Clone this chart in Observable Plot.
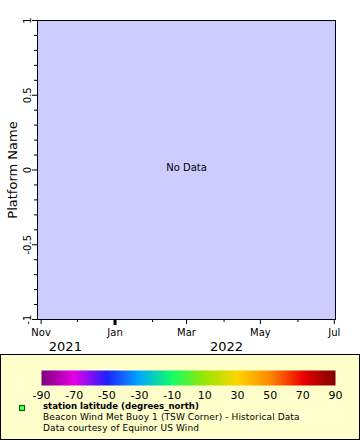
<!DOCTYPE html>
<html>
<head>
<meta charset="utf-8">
<script src="https://cdn.jsdelivr.net/npm/d3@7"></script>
<script src="https://cdn.jsdelivr.net/npm/@observablehq/plot@0.6"></script>
<style>
  html, body { margin: 0; padding: 0; background: white; }
  body { width: 360px; height: 440px; overflow: hidden; font-family: "DejaVu Sans", sans-serif; }
  #chart svg { display: block; }
  #legend { box-sizing: border-box; width: 360px; height: 86px; border: 1px solid black; background: #ffffcc; position: relative; }
  #legend svg { display: block; position: absolute; left: 0; top: 0; }
  .ltxt { position: absolute; left: 42px; font-size: 9px; letter-spacing: 0.1px; line-height: 10px; white-space: nowrap; color: black; }
  #sq { position: absolute; left: 18px; top: 50px; width: 4px; height: 4px; background: #44ff44; border: 1px solid #005500; }
</style>
</head>
<body>
<div id="chart"></div>
<div id="legend">
  <div id="sq"></div>
  <div class="ltxt" style="top:46px;font-weight:bold;font-size:8.6px;letter-spacing:0;">station latitude (degrees_north)</div>
  <div class="ltxt" style="top:57px;">Beacon Wind Met Buoy 1 (TSW Corner) - Historical Data</div>
  <div class="ltxt" style="top:68px;">Data courtesy of Equinor US Wind</div>
</div>
<script>
// Axis domains and ticks
const xStart = new Date(Date.UTC(2021, 9, 29));
const xEnd = new Date(Date.UTC(2022, 6, 2));
const monthLabelDates = [new Date(Date.UTC(2021,10,1)), new Date(Date.UTC(2022,0,1)), new Date(Date.UTC(2022,2,1)), new Date(Date.UTC(2022,4,1)), new Date(Date.UTC(2022,6,1))];
const monthLabels = ["Nov", "Jan", "Mar", "May", "Jul"];
const monthMinorDates = [new Date(Date.UTC(2021,11,1)), new Date(Date.UTC(2022,1,1)), new Date(Date.UTC(2022,3,1)), new Date(Date.UTC(2022,5,1))];
const yearBoundary = [new Date(Date.UTC(2022,0,1))];
const yearLabels = ["2021", "2022"];
const yearLabelDates = [new Date(Date.UTC(2021,10,21)), new Date(Date.UTC(2022,3,3))];
const yMajor = [-1, -0.5, 0, 0.5, 1];
const yMajorLabels = ["-1", "-0.5", "0", "0.5", "1"];
const yMinor = [-0.9, -0.8, -0.7, -0.6, -0.4, -0.3, -0.2, -0.1, 0.1, 0.2, 0.3, 0.4, 0.6, 0.7, 0.8, 0.9];
const yTitle = "Platform Name";
const noDataText = "No Data";
// Colorbar
const cbarTicks = [-90, -70, -50, -30, -10, 10, 30, 50, 70, 90];
const cbarColors = ["#7f007f", "#e600e6", "#2020ff", "#00aaff", "#11ff66", "#99e600", "#ffd500", "#ff8800", "#ee0000", "#800000"];

const fmtMonth = new Map(monthLabelDates.map((d, i) => [+d, monthLabels[i]]));

const chart = Plot.plot({
  width: 360,
  height: 354,
  marginLeft: 37,
  marginTop: 20,
  marginRight: 25,
  marginBottom: 35,
  style: { background: "white", fontFamily: "DejaVu Sans", fontSize: "10px", color: "black" },
  x: { type: "utc", domain: [xStart, xEnd], axis: null },
  y: { domain: [-1, 1], axis: null },
  marks: [
    Plot.frame({ fill: "#ccccff", stroke: "none" }),
    Plot.axisX(monthMinorDates, { tickSize: 3, text: null, label: null, stroke: "black" }),
    Plot.axisX(monthLabelDates, { tickSize: 5, tickPadding: 4, tickFormat: d => fmtMonth.get(+d), label: null, stroke: "black", fill: "black", fontSize: 10 }),
    Plot.axisX(yearBoundary, { tickSize: 6, text: null, label: null, stroke: "black", strokeWidth: 3 }),
    Plot.axisY(yMinor, { tickSize: 3, text: null, label: null, stroke: "black" }),
    Plot.axisY(yMajor, { tickSize: 5, text: null, label: null, stroke: "black" }),
    Plot.text(yMajor, { y: d => d, text: (d, i) => yMajorLabels[i], frameAnchor: "left", dx: -10, rotate: -90, textAnchor: "middle", fontSize: 10, fill: "black" }),
    Plot.frame({ stroke: "black", strokeWidth: 1 }),
    Plot.text([yTitle], { frameAnchor: "left", rotate: -90, dx: -25, textAnchor: "middle", fontSize: 13, fill: "black" }),
    Plot.text(yearLabels, { x: yearLabelDates, text: d => d, frameAnchor: "bottom", dy: 31, fontSize: 13, fill: "black" }),
    Plot.text([noDataText], { frameAnchor: "middle", dy: -2, fontSize: 10, fill: "black" })
  ]
});
document.getElementById("chart").appendChild(chart);

const rainbow = d3.piecewise(d3.interpolateRgb, cbarColors);
const cbar = Plot.plot({
  width: 358,
  height: 46,
  marginLeft: 40,
  marginRight: 24,
  marginTop: 15,
  marginBottom: 16,
  style: { background: "transparent", fontFamily: "DejaVu Sans", fontSize: "11px", color: "black" },
  x: { domain: [-90, 90], axis: null },
  y: { domain: [0, 1], axis: null },
  color: { type: "linear", domain: [-90, 90], interpolate: rainbow },
  marks: [
    Plot.raster({ x1: -90, x2: 90, y1: 0, y2: 1, width: 300, height: 1, fill: (x, y) => x, imageRendering: "auto" }),
    Plot.axisX(cbarTicks, { tickSize: 0, tickPadding: 6, tickFormat: d => String(d), label: null, fill: "black", fontSize: 11 })
  ]
});
document.getElementById("legend").appendChild(cbar);
</script>
</body>
</html>
